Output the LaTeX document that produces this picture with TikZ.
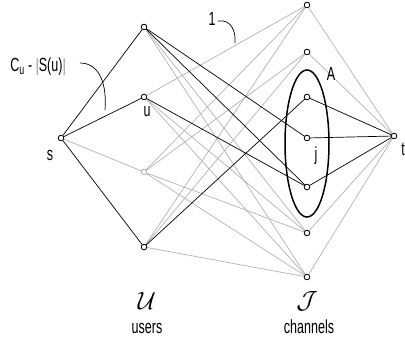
\documentclass[tikz,border=0pt]{standalone}
\usepackage{amsmath}
\usepackage{amssymb}
\usepackage{graphicx}
\usepackage{fontspec}
\setmainfont{Liberation Sans}
\usetikzlibrary{positioning}
\definecolor{edgegray}{RGB}{178,178,178}
\newcommand{\sqz}[1]{\scalebox{0.66}[1]{#1}}

\begin{document}
\begin{tikzpicture}[x=1pt, y=-1pt,
    vtx/.style={circle, draw=black, fill=white, inner sep=0pt, minimum size=5.5pt, line width=0.7pt},
    gvtx/.style={vtx, draw=edgegray},
    flow/.style={black, line width=0.7pt},
    spare/.style={edgegray, line width=0.7pt},
    lbl/.style={inner sep=0pt, font=\fontsize{19}{21}\selectfont}]
    \useasboundingbox (0,0) rectangle (405,343);

    % source, users, channels, sink
    \node[vtx] (s) at (61,138) {};
    \node[vtx] (u1) at (144,27) {};
    \node[vtx] (u2) at (144,97) {};
    \node[gvtx] (u3) at (144,172) {};
    \node[vtx] (u4) at (144,247) {};
    \foreach \i/\y in {1/5, 2/52, 3/97, 4/138, 5/187, 6/233, 7/277}
        \node[vtx] (c\i) at (307,\y) {};
    \node[vtx] (t) at (394,136) {};

    % grey edges first
    \draw[spare] (s) -- (u3);
    \foreach \a/\b in {u1/c6, u1/c7, u2/c1, u2/c6, u2/c7, u3/c1, u3/c2, u3/c6, u3/c7,
                       u4/c1, u4/c2, u4/c7}
        \draw[spare] (\a) -- (\b);
    \foreach \c in {c1, c2, c6, c7}
        \draw[spare] (\c) -- (t);

    % black edges
    \foreach \a in {u1, u2, u4}
        \draw[flow] (s) -- (\a);
    \foreach \a/\b in {u1/c4, u1/c5, u2/c5, u4/c3}
        \draw[flow] (\a) -- (\b);
    \foreach \c in {c3, c4, c5}
        \draw[flow] (\c) -- (t);

    % redraw vertices on top
    \foreach \n in {s, u1, u2, u4, c1, c2, c3, c4, c5, c6, c7, t}
        \node[vtx] at (\n) {};
    \node[gvtx] at (u3) {};

    % the set A
    \draw[line width=1.5pt] (307,143.5) ellipse [x radius=22, y radius=73.5];

    % labels
    \node[lbl] (slab) at (50,155) {\sqz{s}};
    \node[lbl] (ulab) at (147,112) {\sqz{u}};
    \node[lbl] (jlab) at (316,156) {\sqz{j}};
    \node[lbl, anchor=east] (tlab) at (405,149) {\sqz{t}};
    \node[lbl] (alab) at (331,74) {\sqz{A}};
    \node[lbl] (onelab) at (212,19) {\sqz{1}};
    \node[lbl] (caplab) at (38,67) {\sqz{C$_\text{u}$ - $|$S(u)$|$}};
    \draw[line width=0.7pt] (80,63) .. controls (100,63) and (107,85) .. (105,110);
    \draw[line width=0.7pt] (218,21) .. controls (231,19) and (236,31) .. (235,43);

    \node[lbl, font=\fontsize{23}{25}\selectfont] (users) at (147,301) {$\mathcal{U}$};
    \node[lbl, anchor=base] at (147,333) {\sqz{users}};
    \node[lbl, font=\fontsize{23}{25}\selectfont] (chans) at (307,301) {$\mathcal{J}$};
    \node[lbl, anchor=base] at (309,333) {\sqz{channels}};
\end{tikzpicture}
\end{document}
